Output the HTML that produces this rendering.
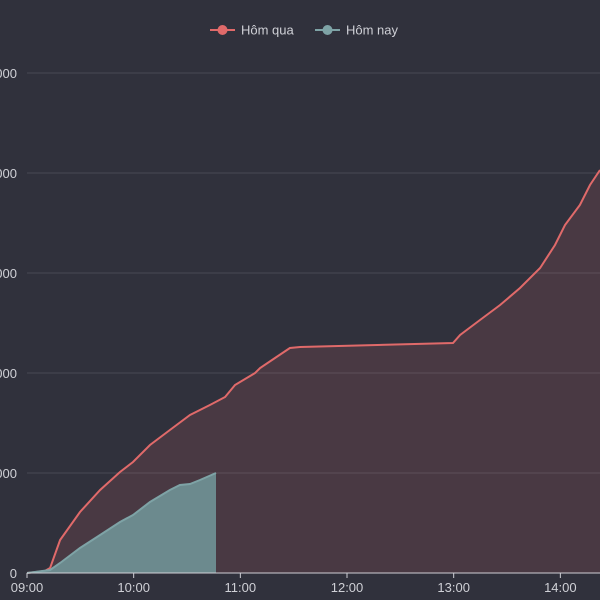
<!DOCTYPE html>
<html><head><meta charset="utf-8"><style>
html,body{margin:0;padding:0;background:#30313c;}
svg{display:block;font-family:"Liberation Sans",sans-serif;}
</style></head><body>
<svg id="chart" width="600" height="600"></svg>
<script>
const yTicks=[0,10000,20000,30000,40000,50000];
const xTickLabels=["09:00","10:00","11:00","12:00","13:00","14:00"];
const xTickMinutes=[0,60,120,180,240,300];
const yesterdayMinutes=[0,10,13,18.6,29.8,41.1,52.3,59.6,69.2,80.4,91.7,102.9,111.4,117,128.3,131.1,139.5,147.9,153.6,239.6,243.6,254.8,266.1,277.3,288.6,297,302.6,311,316.7,322.3];
const yesterdayValues=[0,200,500,3300,6100,8300,10100,11100,12800,14300,15800,16800,17600,18800,20000,20500,21500,22500,22600,23000,23800,25300,26800,28500,30500,32800,34800,36800,38800,40300];
const todayMinutes=[0,13,18.6,29.8,41.1,52.3,59.6,69.2,80.4,86,91.7,97.3,106.3];
const todayValues=[0,300,1000,2500,3800,5100,5800,7100,8300,8800,8900,9300,10000];
const NS="http://www.w3.org/2000/svg";
const svg=document.getElementById('chart');
const X0=27,PX_PER_MIN=106.67/60,Y0=573,PX_PER_VAL=100/10000;
const xs=m=>X0+m*PX_PER_MIN, ys=v=>Y0-v*PX_PER_VAL;
function mk(t,a){const e=document.createElementNS(NS,t);for(const k in a)e.setAttribute(k,a[k]);svg.appendChild(e);return e;}
yTicks.forEach((v,i)=>{
 if(i>0){const g=mk('line',{x1:27,x2:600,y1:ys(v),y2:ys(v),stroke:'#474955','stroke-width':1});
 
 }
 const t=mk('text',{x:17,y:ys(v)+5,'text-anchor':'end',fill:'#cfd0d6','font-size':13});
 
 
 t.textContent=v;
});
function path(mins,vals,stroke,fill,name,close){
 let d=mins.map((m,i)=>(i?'L':'M')+xs(m).toFixed(1)+','+ys(vals[i]).toFixed(1)).join(' ');
 const a=mk('path',{d:d+' L'+xs(mins[mins.length-1]).toFixed(1)+','+Y0+' L'+X0+','+Y0+' Z',fill:fill,stroke:'none'});
 
 
 const l=mk('path',{d:d,fill:'none',stroke:stroke,'stroke-width':2});
 
 
}
path(yesterdayMinutes,yesterdayValues,'#e06a6a','rgba(224,106,106,0.15)','yesterday');
path(todayMinutes,todayValues,'#7ea3a6','#6c8a8e','today');
const ax=mk('line',{x1:27,x2:600,y1:Y0,y2:Y0,stroke:'#cfd0d6','stroke-width':1});


xTickMinutes.forEach((m,i)=>{
 const tk=mk('line',{x1:xs(m),x2:xs(m),y1:Y0,y2:Y0+5,stroke:'#cfd0d6'});
 
 
 const t=mk('text',{x:xs(m),y:592,'text-anchor':'middle',fill:'#cfd0d6','font-size':13});
 
 
 t.textContent=xTickLabels[i];
});
[["Hôm qua","#e06a6a",210],["Hôm nay","#7ea3a6",315]].forEach(([n,c,x])=>{
 const g=document.createElementNS(NS,'g');svg.appendChild(g);
 
 
 g.innerHTML=`<line x1="${x}" x2="${x+25}" y1="30" y2="30" stroke="${c}" stroke-width="2"/><circle cx="${x+12.5}" cy="30" r="5" fill="${c}"/><text x="${x+31}" y="34.5" fill="#cfd0d6" font-size="13">${n}</text>`;
});
</script>
</body></html>
